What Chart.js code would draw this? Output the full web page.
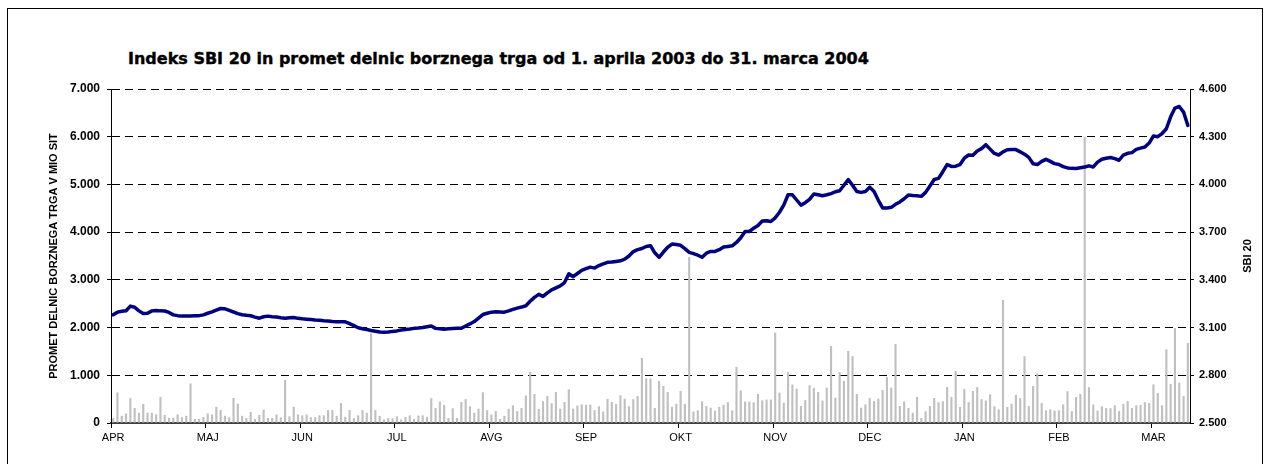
<!DOCTYPE html>
<html>
<head>
<meta charset="utf-8">
<script src="https://cdn.jsdelivr.net/npm/chart.js@4.4.1/dist/chart.umd.min.js"></script>
<style>
  body { margin: 0; background: #fff; }
  #wrap { position: relative; width: 1271px; height: 464px; overflow: hidden; }
  #frame { position: absolute; left: 7px; top: 8px; width: 1254px; height: 500px; border: 1px solid #000; }
  #title { position: absolute; left: 128px; top: 51px; font: bold 16px "DejaVu Sans"; line-height: 16px; white-space: nowrap; color: #000; -webkit-text-stroke: 0.4px #000; }
  canvas { position: absolute; left: 0; top: 0; }
</style>
</head>
<body>
<div id="wrap">
  <div id="frame"></div>
  <div id="title">Indeks SBI 20 in promet delnic borznega trga od 1. aprila 2003 do 31. marca 2004</div>
  <canvas id="chart" width="1271" height="464"></canvas>
</div>
<script>
// month labels, one every 22 trading days
let months = ["APR", "MAJ", "JUN", "JUL", "AVG", "SEP", "OKT", "NOV", "DEC", "JAN", "FEB", "MAR"];
let monthStep = 22;

// daily turnover, mio SIT (left axis)
let turnover = [
  100, 640, 150, 200, 520, 315, 215, 400, 215, 215, 180, 545, 170, 110, 110, 180, 120, 150, 830, 85,
  85, 125, 200, 180, 340, 270, 150, 120, 525, 405, 150, 105, 230, 85, 170, 280, 105, 105, 180, 120,
  900, 140, 340, 180, 160, 180, 120, 120, 160, 160, 270, 270, 150, 420, 130, 270, 100, 160, 270, 215,
  1880, 270, 150,
  75, 100, 100, 140, 75, 130, 160, 85, 155, 160, 130, 520, 315, 450, 380, 105, 310, 105, 440, 500,
  350, 215, 300, 645, 270, 180, 250, 85, 150, 295, 370, 250, 315, 575, 1075, 610, 295, 455, 565, 415,
  650, 300, 440, 705, 300, 365, 390, 380, 385, 270, 350, 240, 505, 440, 400, 580, 510, 350, 500, 565,
  1365, 935, 930,
  315, 880, 775, 650, 340, 400, 670, 400, 3480, 240, 265, 455, 355, 320, 260, 340, 380, 435, 265, 1175,
  680, 450, 450, 435, 610, 475, 490, 490, 1895, 635, 425, 1065, 805, 720, 355, 480, 790, 735, 650, 470,
  740, 1615, 530, 1070, 880, 1510, 1400, 610, 320, 390, 520, 460, 510, 690, 960, 740, 1655, 355, 450, 315,
  215, 545, 105,
  245, 355, 525, 435, 455, 755, 545, 1090, 335, 715, 435, 670, 750, 500, 470, 600, 350, 285, 2580, 335,
  400, 590, 520, 1400, 355, 775, 1040, 420, 265, 285, 260, 265, 390, 665, 250, 545, 610, 6000, 750, 390,
  260, 350, 315, 310, 370, 250, 400, 460, 315, 370, 380, 435, 420, 810, 630, 370, 1545, 820, 1990, 845,
  565, 1680
];

// SBI 20 index (right axis)
let sbi20 = [
  3180, 3197, 3203, 3206, 3235, 3228, 3205, 3188, 3190, 3205, 3208, 3205, 3204, 3195, 3180, 3175, 3172, 3173, 3172, 3174,
  3175, 3180, 3190, 3199, 3210, 3220, 3218, 3208, 3198, 3188, 3181, 3177, 3174, 3166, 3159, 3168, 3172, 3168, 3166, 3162,
  3159, 3162, 3163, 3158, 3155, 3153, 3151, 3148, 3146, 3143, 3141, 3138, 3137, 3137, 3136, 3125, 3112, 3099, 3093, 3088,
  3082, 3077, 3072, 3070, 3072, 3076, 3079, 3085, 3088, 3091, 3095, 3097, 3100, 3105, 3110, 3095, 3092, 3089, 3092, 3094,
  3095, 3096, 3110, 3123, 3138, 3160, 3182, 3190, 3197, 3199, 3198, 3197, 3205, 3214, 3222, 3229, 3237, 3265, 3290, 3309,
  3296, 3318, 3337, 3350, 3362, 3383, 3438, 3420, 3440, 3460, 3470, 3480, 3474, 3490, 3501, 3510, 3512, 3516, 3520, 3530,
  3550, 3578, 3590, 3597, 3610, 3615, 3570, 3542, 3575, 3605, 3625, 3622, 3617, 3596, 3573, 3565, 3555, 3542, 3568, 3579,
  3579, 3590, 3606, 3610, 3614, 3635, 3665, 3704, 3704, 3725, 3742, 3770, 3772, 3767, 3790, 3825, 3870, 3935, 3935, 3902,
  3870, 3885, 3906, 3940, 3935, 3929, 3935, 3942, 3954, 3960, 3995, 4030, 3995, 3955, 3950, 3955, 3983, 3955, 3900, 3852,
  3852, 3856, 3875, 3890, 3910, 3933, 3930, 3929, 3925, 3950, 3990, 4031, 4038, 4080, 4125, 4113, 4115, 4125, 4165, 4185,
  4183, 4210, 4225, 4250, 4222, 4195, 4185, 4205, 4218, 4219, 4219, 4205, 4190, 4170, 4130, 4125, 4145, 4158, 4145, 4131,
  4125, 4112, 4104, 4101, 4100, 4105, 4110, 4117, 4110, 4140, 4158, 4165, 4169, 4162, 4152, 4185, 4196, 4200, 4220, 4228,
  4235, 4260, 4305, 4300, 4320, 4350, 4425, 4480, 4490, 4455, 4371
];

let labels = turnover.map((v, i) => (i % monthStep === 0 ? months[i / monthStep] : ""));

const fmt = (v) => String(v).replace(/\B(?=(\d{3})+(?!\d))/g, ".");
const arial = "'Liberation Sans', Arial, sans-serif";

// right axis title reads bottom to top
const sbiTitle = {
  id: "sbiTitle",
  afterDraw(chart) {
    const ctx = chart.ctx;
    const a = chart.chartArea;
    ctx.save();
    ctx.translate(1248, (a.top + a.bottom) / 2);
    ctx.rotate(-Math.PI / 2);
    ctx.font = "bold 11px " + arial;
    ctx.textAlign = "center";
    ctx.textBaseline = "middle";
    ctx.fillStyle = "#000";
    ctx.fillText("SBI 20", 0, 0);
    ctx.restore();
  },
};

new Chart(document.getElementById("chart"), {
  type: "bar",
  data: {
    labels: labels,
    datasets: [
      {
        type: "line",
        label: "SBI 20",
        data: sbi20,
        yAxisID: "y1",
        borderColor: "#000080",
        borderWidth: 3.5,
        pointRadius: 0,
        tension: 0,
        borderJoinStyle: "round",
        borderCapStyle: "round",
        order: 0,
      },
      {
        type: "bar",
        label: "Promet",
        data: turnover,
        yAxisID: "y",
        backgroundColor: "#c0c0c0",
        barPercentage: 0.5,
        categoryPercentage: 1,
        order: 1,
      },
    ],
  },
  options: {
    responsive: false,
    animation: false,
    layout: { padding: { top: 89, left: 0, right: 0, bottom: 0 } },
    plugins: { legend: { display: false }, tooltip: { enabled: false } },
    scales: {
      x: {
        offset: true,
        grid: {
          offset: true,
          drawOnChartArea: false,
          tickLength: 5,
          color: (c) => (c.index % monthStep === 0 ? "#000" : "rgba(0,0,0,0)"),
        },
        border: { color: "#404040", width: 2 },
        ticks: {
          autoSkip: false,
          maxRotation: 0,
          minRotation: 0,
          padding: 3,
          color: "#000",
          font: { family: arial, size: 11 },
        },
        afterFit: (s) => { s.height = 41; },
      },
      y: {
        position: "left",
        min: 0,
        max: 7000,
        ticks: {
          stepSize: 1000,
          padding: 7,
          color: "#000",
          font: { family: arial, size: 12, weight: "bold" },
          callback: fmt,
        },
        grid: { color: "#000", tickLength: 4, lineWidth: 1 },
        border: { color: "#000", width: 1, dash: [8, 5] },
        title: {
          display: true,
          text: "PROMET DELNIC BORZNEGA TRGA V MIO SIT",
          color: "#000",
          font: { family: arial, size: 11, weight: "bold" },
          padding: { top: 47, bottom: 0 },
        },
        afterFit: (s) => { s.width = 111; },
      },
      y1: {
        position: "right",
        min: 2500,
        max: 4600,
        ticks: {
          stepSize: 300,
          padding: 5,
          color: "#000",
          font: { family: arial, size: 11, weight: "bold" },
          callback: fmt,
        },
        grid: { drawOnChartArea: false, color: "#000", tickLength: 4 },
        border: { color: "#000", width: 1 },
        afterFit: (s) => { s.width = 81; },
      },
    },
  },
  plugins: [sbiTitle],
});
</script>
</body>
</html>
